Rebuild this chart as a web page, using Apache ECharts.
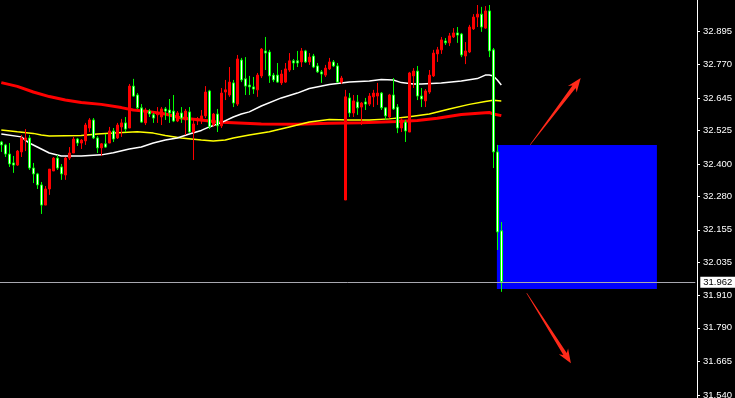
<!DOCTYPE html>
<html>
<head>
<meta charset="utf-8">
<script src="https://cdn.jsdelivr.net/npm/echarts@6/dist/echarts.min.js"></script>
<style>
  html, body { margin: 0; padding: 0; background: #000; }
  #chart { width: 735px; height: 398px; }
</style>
</head>
<body>
<div id="chart"></div>
<script>
// Bars, oldest first: [open, close, low, high]
const candles = [
  [32.482, 32.471, 32.445, 32.486], [32.471, 32.437, 32.426, 32.475], [32.437, 32.400, 32.389, 32.478], [32.404, 32.396, 32.367, 32.430],
  [32.396, 32.448, 32.393, 32.452], [32.445, 32.497, 32.426, 32.508], [32.489, 32.497, 32.448, 32.530], [32.497, 32.385, 32.378, 32.508],
  [32.385, 32.363, 32.329, 32.404], [32.363, 32.322, 32.307, 32.367], [32.322, 32.247, 32.214, 32.333], [32.247, 32.307, 32.247, 32.318],
  [32.307, 32.381, 32.285, 32.381], [32.374, 32.422, 32.374, 32.426], [32.422, 32.385, 32.378, 32.434], [32.389, 32.363, 32.341, 32.400],
  [32.359, 32.422, 32.341, 32.426], [32.422, 32.441, 32.415, 32.463], [32.441, 32.493, 32.441, 32.501], [32.493, 32.478, 32.467, 32.497],
  [32.478, 32.489, 32.456, 32.493], [32.486, 32.545, 32.471, 32.553], [32.534, 32.564, 32.519, 32.571], [32.564, 32.497, 32.493, 32.571],
  [32.497, 32.460, 32.441, 32.504], [32.460, 32.475, 32.430, 32.478], [32.475, 32.463, 32.460, 32.512], [32.478, 32.523, 32.478, 32.538],
  [32.523, 32.493, 32.482, 32.534], [32.497, 32.545, 32.493, 32.553], [32.538, 32.553, 32.501, 32.568], [32.553, 32.530, 32.519, 32.575],
  [32.534, 32.690, 32.534, 32.698], [32.690, 32.653, 32.650, 32.717], [32.657, 32.609, 32.605, 32.664], [32.609, 32.556, 32.553, 32.623],
  [32.553, 32.601, 32.545, 32.609], [32.597, 32.586, 32.575, 32.605], [32.583, 32.571, 32.553, 32.590], [32.583, 32.590, 32.553, 32.612],
  [32.575, 32.605, 32.545, 32.612], [32.605, 32.597, 32.564, 32.612], [32.601, 32.590, 32.553, 32.642], [32.597, 32.560, 32.556, 32.657],
  [32.560, 32.590, 32.556, 32.597], [32.590, 32.571, 32.553, 32.612], [32.564, 32.597, 32.508, 32.605], [32.594, 32.519, 32.515, 32.612],
  [32.519, 32.549, 32.415, 32.571], [32.560, 32.568, 32.545, 32.575], [32.560, 32.579, 32.549, 32.601], [32.579, 32.668, 32.571, 32.690],
  [32.672, 32.538, 32.530, 32.676], [32.545, 32.586, 32.538, 32.590], [32.586, 32.542, 32.519, 32.605], [32.542, 32.664, 32.534, 32.683],
  [32.668, 32.676, 32.638, 32.713], [32.657, 32.705, 32.650, 32.761], [32.702, 32.627, 32.612, 32.713], [32.623, 32.791, 32.616, 32.806],
  [32.787, 32.713, 32.705, 32.795], [32.717, 32.690, 32.657, 32.798], [32.694, 32.687, 32.657, 32.728], [32.687, 32.679, 32.661, 32.724],
  [32.676, 32.731, 32.650, 32.739], [32.728, 32.828, 32.720, 32.832], [32.821, 32.813, 32.750, 32.873], [32.817, 32.728, 32.702, 32.825],
  [32.731, 32.713, 32.705, 32.739], [32.731, 32.705, 32.702, 32.776], [32.702, 32.735, 32.694, 32.750], [32.705, 32.754, 32.702, 32.776],
  [32.750, 32.784, 32.743, 32.813], [32.784, 32.776, 32.750, 32.791], [32.784, 32.776, 32.761, 32.821], [32.780, 32.821, 32.761, 32.832],
  [32.821, 32.780, 32.776, 32.825], [32.780, 32.798, 32.769, 32.813], [32.802, 32.761, 32.757, 32.810], [32.765, 32.743, 32.739, 32.776],
  [32.743, 32.735, 32.702, 32.750], [32.731, 32.757, 32.724, 32.769], [32.754, 32.780, 32.750, 32.795], [32.780, 32.765, 32.761, 32.787],
  [32.765, 32.705, 32.702, 32.776], [32.705, 32.720, 32.698, 32.728], [32.266, 32.650, 32.266, 32.676], [32.646, 32.590, 32.575, 32.664],
  [32.590, 32.635, 32.575, 32.657], [32.631, 32.609, 32.583, 32.657], [32.612, 32.627, 32.545, 32.631], [32.631, 32.623, 32.601, 32.646],
  [32.623, 32.653, 32.616, 32.664], [32.650, 32.664, 32.612, 32.676], [32.653, 32.664, 32.620, 32.702], [32.664, 32.609, 32.601, 32.668],
  [32.609, 32.579, 32.564, 32.612], [32.575, 32.657, 32.571, 32.661], [32.657, 32.605, 32.601, 32.720], [32.612, 32.534, 32.515, 32.623],
  [32.534, 32.564, 32.519, 32.571], [32.556, 32.523, 32.482, 32.564], [32.519, 32.739, 32.519, 32.743], [32.728, 32.746, 32.683, 32.757],
  [32.746, 32.653, 32.638, 32.765], [32.653, 32.642, 32.612, 32.683], [32.635, 32.672, 32.612, 32.679], [32.668, 32.731, 32.661, 32.750],
  [32.728, 32.813, 32.724, 32.825], [32.810, 32.825, 32.780, 32.836], [32.825, 32.862, 32.810, 32.873], [32.858, 32.851, 32.843, 32.869],
  [32.851, 32.877, 32.839, 32.888], [32.873, 32.888, 32.869, 32.906], [32.888, 32.880, 32.851, 32.910], [32.884, 32.806, 32.798, 32.888],
  [32.802, 32.821, 32.772, 32.854], [32.817, 32.910, 32.813, 32.918], [32.903, 32.947, 32.899, 32.958], [32.947, 32.958, 32.910, 32.992],
  [32.958, 32.910, 32.892, 32.985], [32.906, 32.970, 32.903, 32.988], [32.970, 32.821, 32.798, 32.992], [32.825, 32.445, 32.385, 32.832],
  [32.445, 32.147, 32.080, 32.471], [32.151, 31.962, 31.924, 32.184]
];

// Moving averages, sampled as [bar index, price]
const maFast = [
  [0, 32.512], [5, 32.501], [7, 32.478], [10, 32.456], [12, 32.441], [15, 32.430], [20, 32.430], [25, 32.434],
  [28, 32.442], [32, 32.456], [35, 32.463], [38, 32.478], [41, 32.489], [44, 32.497], [47, 32.512], [50, 32.525],
  [52, 32.538], [55, 32.554], [58, 32.575], [60, 32.586], [62, 32.594], [65, 32.616], [70, 32.646], [74, 32.664],
  [77, 32.681], [82, 32.696], [87, 32.705], [92, 32.709], [95, 32.715], [98, 32.713], [100, 32.703], [103, 32.698],
  [105, 32.698], [110, 32.702], [115, 32.709], [119, 32.718], [121, 32.731], [122, 32.731], [123, 32.728], [124, 32.713],
  [125, 32.694]
];
const maMid = [
  [0, 32.527], [4, 32.520], [8, 32.514], [10, 32.508], [12, 32.504], [20, 32.506], [24, 32.512], [28, 32.515],
  [34, 32.520], [38, 32.515], [41, 32.506], [45, 32.497], [50, 32.489], [53, 32.486], [56, 32.489], [58, 32.497],
  [62, 32.508], [67, 32.520], [72, 32.538], [77, 32.556], [82, 32.566], [87, 32.564], [92, 32.564], [97, 32.568],
  [102, 32.576], [107, 32.586], [112, 32.605], [117, 32.622], [121, 32.633], [123, 32.637], [125, 32.635]
];
const maSlow = [
  [0, 32.703], [4, 32.689], [8, 32.668], [12, 32.651], [16, 32.638], [20, 32.629], [25, 32.622], [30, 32.610],
  [33, 32.601], [37, 32.595], [41, 32.586], [45, 32.571], [50, 32.564], [54, 32.556], [58, 32.554], [65, 32.549],
  [74, 32.548], [82, 32.552], [90, 32.554], [99, 32.558], [104, 32.562], [109, 32.570], [115, 32.584], [121, 32.591],
  [122, 32.592], [123, 32.586], [125, 32.580]
];

// Price scale labels on the right
const priceTicks = [31.540, 31.665, 31.790, 31.910, 32.035, 32.155, 32.280, 32.400, 32.525, 32.645, 32.770, 32.895, 33.020];
const lastPrice = 31.962;

// Target zone: [fromBar, topPrice, toBar, bottomPrice]
const zoneBox = [[123.9, 32.471, 163.9, 31.935]];
// Direction arrows: [startBar, startPrice, tipBar, tipPrice]
const arrows = [
  [132.2, 32.471, 144.85, 32.720],
  [131.35, 31.919, 142.4, 31.658]
];

const barSlots = 174;
const categories = Array.from({ length: barSlots }, (_, i) => String(i));

const chart = echarts.init(document.getElementById('chart'), null, { renderer: 'canvas' });

function renderZone(params, api) {
  const a = api.coord([api.value(0), api.value(1)]);
  const b = api.coord([api.value(2), api.value(3)]);
  return {
    type: 'rect',
    shape: { x: a[0], y: a[1], width: b[0] - a[0], height: b[1] - a[1] },
    style: { fill: '#0000ff' }
  };
}

function renderArrow(params, api) {
  const p0 = api.coord([api.value(0), api.value(1)]);
  const p1 = api.coord([api.value(2), api.value(3)]);
  const dx = p1[0] - p0[0], dy = p1[1] - p0[1];
  const len = Math.sqrt(dx * dx + dy * dy);
  const ux = dx / len, uy = dy / len;
  const nx = -uy, ny = ux;
  const headLen = 14, headHalf = 5.5, notch = 3, w0 = 0.3, w1 = 2.0;
  const bx = p1[0] - ux * headLen, by = p1[1] - uy * headLen;
  const pt = (x, y, along, side) => [x + ux * along + nx * side, y + uy * along + ny * side];
  const points = [
    pt(p0[0], p0[1], 0, w0),
    pt(bx, by, notch, w1),
    pt(bx, by, 0, headHalf),
    [p1[0], p1[1]],
    pt(bx, by, 0, -headHalf),
    pt(bx, by, notch, -w1),
    pt(p0[0], p0[1], 0, -w0)
  ];
  return { type: 'polygon', shape: { points }, style: { fill: '#ff2a1a' } };
}

const option = {
  backgroundColor: '#000000',
  animation: false,
  grid: { left: -0.7, right: 39.7, top: -2.52, bottom: -1.0, containLabel: false, outerBoundsMode: 'none' },
  xAxis: [
    { type: 'category', data: categories, boundaryGap: true, show: false },
    { type: 'value', min: -0.5, max: barSlots - 0.5, show: false }
  ],
  yAxis: {
    type: 'value',
    position: 'right',
    offset: 1.7,
    min: 31.525,
    max: 33.020,
    splitLine: { show: false },
    axisLine: { show: true, onZero: false, lineStyle: { color: '#ffffff', width: 1 } },
    axisTick: { show: true, customValues: priceTicks, length: 3, lineStyle: { color: '#ffffff' } },
    axisLabel: {
      customValues: priceTicks,
      color: '#ffffff',
      fontFamily: 'Liberation Sans',
      fontSize: 9.5,
      margin: 6,
      formatter: v => Number(v).toFixed(3)
    }
  },
  series: [
    {
      type: 'custom',
      xAxisIndex: 1,
      z: 1,
      silent: true,
      data: zoneBox,
      encode: { x: [0, 2], y: [1, 3] },
      renderItem: renderZone,
      clip: false
    },
    {
      type: 'line', xAxisIndex: 0, z: 2, data: maSlow, showSymbol: false, symbol: 'none', silent: true,
      lineStyle: { color: '#ff0000', width: 3 }
    },
    {
      type: 'line', xAxisIndex: 0, z: 2, data: maMid, showSymbol: false, symbol: 'none', silent: true,
      lineStyle: { color: '#ffff00', width: 1.5 }
    },
    {
      type: 'line', xAxisIndex: 0, z: 2, data: maFast, showSymbol: false, symbol: 'none', silent: true,
      lineStyle: { color: '#ffffff', width: 1.5 }
    },
    {
      type: 'candlestick',
      xAxisIndex: 0,
      z: 3,
      silent: true,
      barWidth: 3,
      data: candles,
      itemStyle: {
        color: '#ff0000',
        color0: '#ffffff',
        borderColor: '#ff0000',
        borderColor0: '#00ff00',
        borderWidth: 1
      },
      markLine: {
        silent: true,
        symbol: ['none', 'none'],
        lineStyle: { color: '#a8a8b0', width: 1, type: 'solid' },
        label: {
          show: true,
          position: 'end',
          distance: 5,
          formatter: () => lastPrice.toFixed(3),
          color: '#000000',
          backgroundColor: '#ffffff',
          fontFamily: 'Liberation Sans',
          fontSize: 9.5,
          padding: [1, 3, 0, 3]
        },
        data: [{ yAxis: lastPrice }]
      }
    },
    {
      type: 'custom',
      xAxisIndex: 1,
      z: 4,
      silent: true,
      data: arrows,
      encode: { x: [0, 2], y: [1, 3] },
      renderItem: renderArrow,
      clip: false
    }
  ]
};

chart.setOption(option);
</script>
</body>
</html>
